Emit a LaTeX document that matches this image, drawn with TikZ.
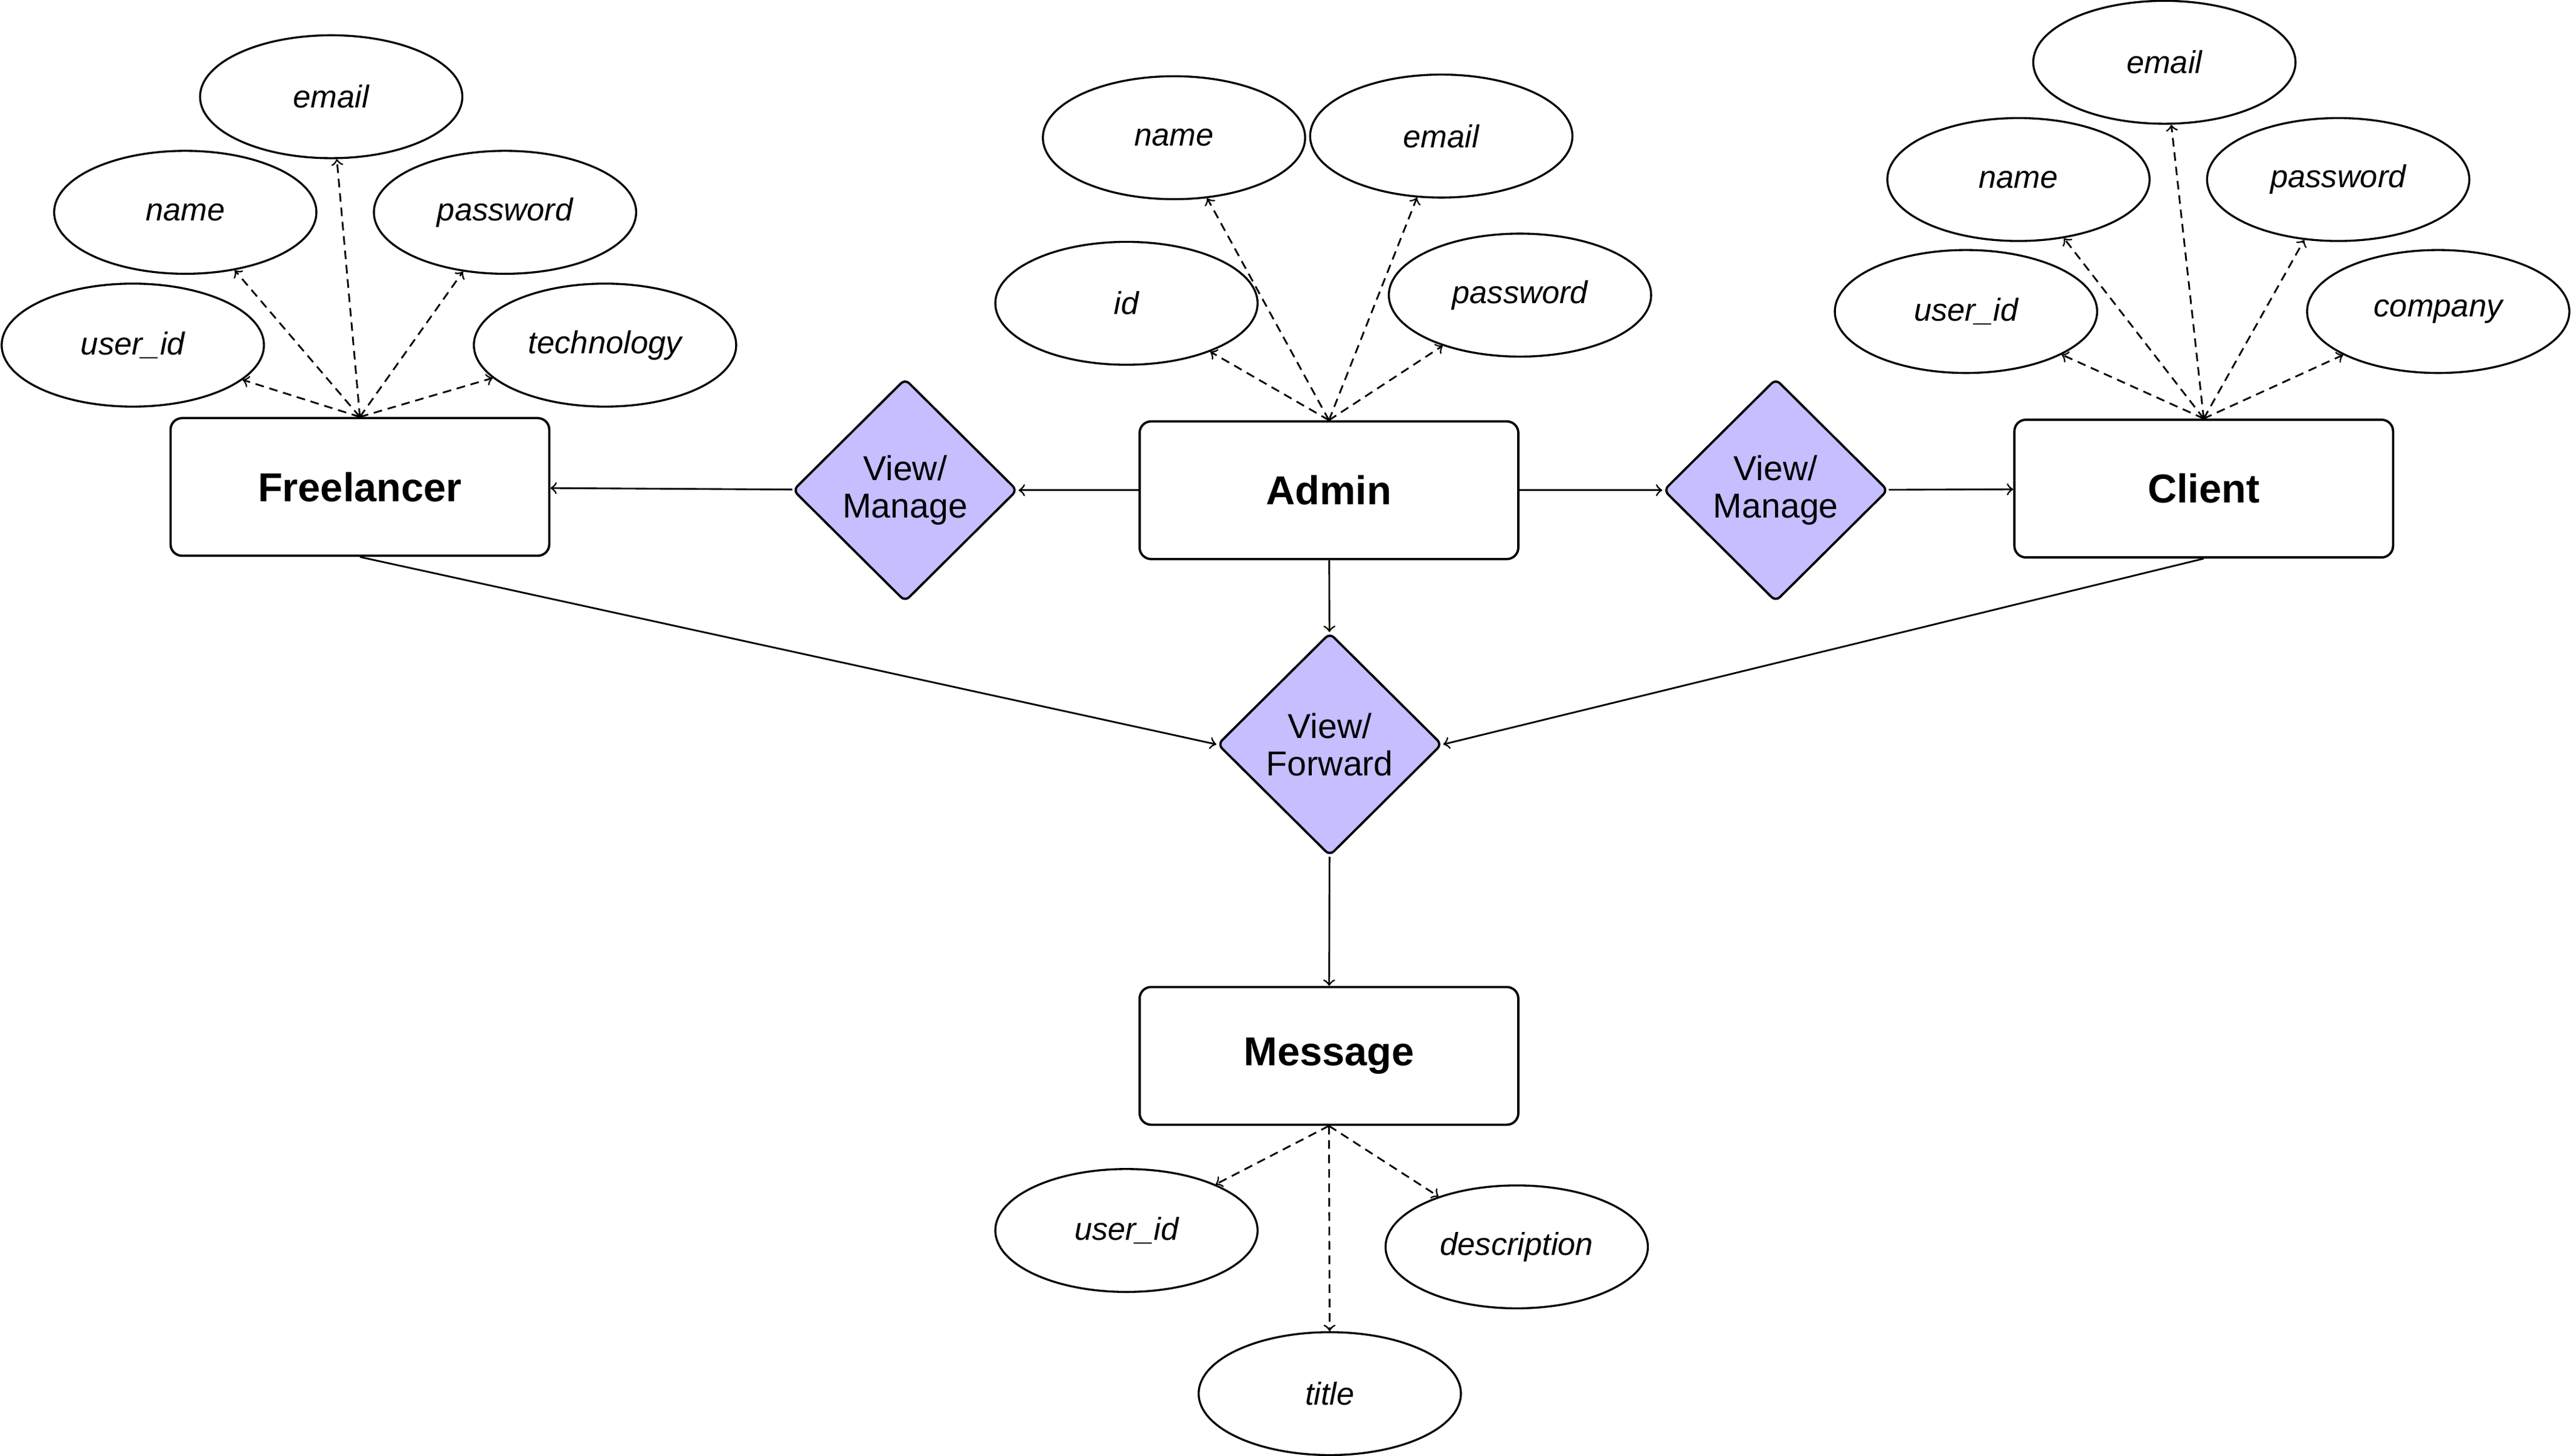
\documentclass[tikz,border=0pt]{standalone}
\usepackage{fontspec}
\setmainfont{Liberation Sans}
\usetikzlibrary{shapes.geometric}
\definecolor{lav}{RGB}{197,190,255}
\begin{document}
\begin{tikzpicture}[>=to, x=0.02cm, y=-0.02cm,
  ent/.style={draw, line width=0.8pt, rounded corners=4pt, minimum width=4.62cm, minimum height=1.68cm, font=\fontsize{14}{16}\selectfont\bfseries},
  rel/.style={draw, diamond, fill=lav, line width=0.8pt, rounded corners=2pt, minimum width=2.74cm, minimum height=2.72cm, inner sep=0pt, align=center, font=\fontsize{12}{13}\selectfont},
  att/.style={draw, ellipse, line width=0.7pt, minimum width=3.2cm, minimum height=1.5cm, font=\fontsize{11}{13}\selectfont\itshape},
  con/.style={->, line width=0.6pt},
  lnk/.style={->, line width=0.6pt, dash pattern=on 3pt off 2pt}]
\useasboundingbox (0,0) rectangle (1568,888);

\node[ent] (fre) at (219.5,297) {Freelancer};
\node[ent] (adm) at (810.5,299) {Admin};
\node[ent] (cli) at (1344,298) {Client};
\node[ent] (msg) at (810.5,644) {Message};

\node[rel] (rml) at (552,299) {View/\\Manage};
\node[rel] (rmr) at (1083,299) {View/\\Manage};
\node[rel] (rvf) at (811,454) {View/\\Forward};

\node[att] (femail) at (202,59) {email};
\node[att] (fname) at (113,129.5) {name};
\node[att] (fpw) at (308,129.5) {password};
\node[att] (fuid) at (81,210.5) {user\_id};
\node[att] (ftech) at (369,210.5) {technology};

\node[att] (aname) at (716,84) {name};
\node[att] (aemail) at (879,83) {email};
\node[att] (aid) at (687,185) {id};
\node[att] (apw) at (927,180) {password};

\node[att] (cemail) at (1320,38) {email};
\node[att] (cname) at (1231,109.5) {name};
\node[att] (cpw) at (1426,109.5) {password};
\node[att] (cuid) at (1199,190) {user\_id};
\node[att] (ccomp) at (1487,190) {company};

\node[att] (muid) at (687,750.5) {user\_id};
\node[att] (mdesc) at (925,760.5) {description};
\node[att] (mtitle) at (811,850) {title};

\draw[con] (adm) -- (rml);
\draw[con] (rml) -- (fre);
\draw[con] (adm) -- (rmr);
\draw[con] (rmr) -- (cli);
\draw[con] (adm) -- (rvf);
\draw[con] (fre.south) -- (rvf.west);
\draw[con] (cli.south) -- (rvf.east);
\draw[con] (rvf) -- (msg);

\draw[lnk] (fre.north) -- (femail);
\draw[lnk] (fre.north) -- (fname);
\draw[lnk] (fre.north) -- (fpw);
\draw[lnk] (fre.north) -- (fuid);
\draw[lnk] (fre.north) -- (ftech);

\draw[lnk] (adm.north) -- (aname);
\draw[lnk] (adm.north) -- (aemail);
\draw[lnk] (adm.north) -- (aid);
\draw[lnk] (adm.north) -- (apw);

\draw[lnk] (cli.north) -- (cemail);
\draw[lnk] (cli.north) -- (cname);
\draw[lnk] (cli.north) -- (cpw);
\draw[lnk] (cli.north) -- (cuid);
\draw[lnk] (cli.north) -- (ccomp);

\draw[lnk] (msg.south) -- (muid);
\draw[lnk] (msg.south) -- (mdesc);
\draw[lnk] (msg.south) -- (mtitle);
\end{tikzpicture}
\end{document}
